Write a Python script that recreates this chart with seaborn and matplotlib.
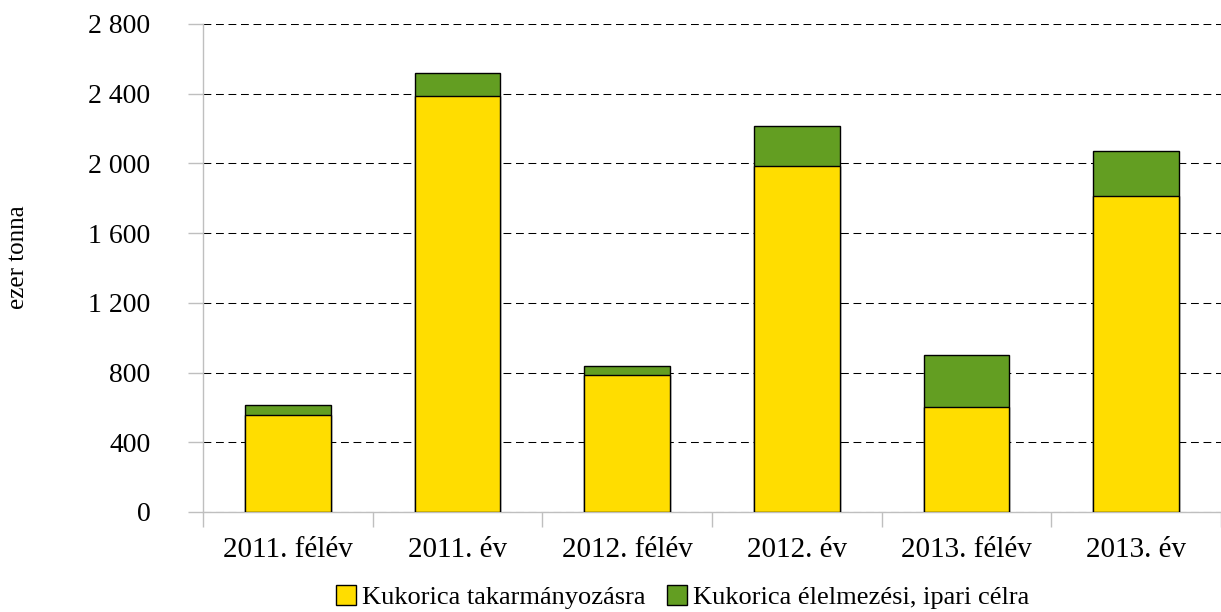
import seaborn as sns
import matplotlib.pyplot as plt
import pandas as pd
import numpy as np

sns.set_theme(style="white")
plt.rcParams['font.family'] = ['Liberation Serif', 'DejaVu Serif']
plt.rcParams['text.color'] = 'black'
plt.rcParams['xtick.color'] = 'black'
plt.rcParams['ytick.color'] = 'black'

# data (ezer tonna)
periods = ["2011. félév", "2011. év", "2012. félév", "2012. év", "2013. félév", "2013. év"]
takarmany = [555, 2387, 786, 1985, 602, 1813]
elelmezes = [59, 132, 52, 230, 299, 258]

df = pd.DataFrame({"period": periods, "takarmany": takarmany, "elelmezes": elelmezes})
df["total"] = df["takarmany"] + df["elelmezes"]

yellow = "#FFDD00"
green = "#639E22"

fig = plt.figure(figsize=(12.21, 6.12), dpi=100)
ax = fig.add_axes([0.1663, 0.1634, 0.8337, 0.7974])

# stacked bars: total (green) behind, feed part (yellow) in front
sns.barplot(x="period", y="total", data=df, color=green, width=0.505,
            edgecolor="black", linewidth=1, saturation=1, ax=ax, zorder=3)
sns.barplot(x="period", y="takarmany", data=df, color=yellow, width=0.505,
            edgecolor="black", linewidth=1, saturation=1, ax=ax, zorder=4)

ax.set_ylim(0, 2800)
ax.set_xlim(-0.5, 5.5)
ax.set_yticks(range(0, 2801, 400))
ax.set_yticklabels([f"{v:,}".replace(",", " ") for v in range(0, 2801, 400)])
ax.yaxis.grid(True, linestyle=(0, (7.5, 4.5)), color="black", linewidth=0.75, zorder=1)
ax.set_axisbelow(True)

ax.set_xticks(np.arange(-0.5, 6, 1), minor=True)
ax.tick_params(axis="x", which="major", length=0, pad=18, labelsize=21)
ax.tick_params(axis="x", which="minor", length=11, color="#bfbfbf", width=1, bottom=True)
ax.tick_params(axis="y", length=11, color="#bfbfbf", width=1, left=True, pad=27, labelsize=20)

for s in ["top", "right"]:
    ax.spines[s].set_visible(False)
for s in ["left", "bottom"]:
    ax.spines[s].set_color("#bfbfbf")
    ax.spines[s].set_linewidth(1)

ax.set_xlabel("")
ax.set_ylabel("")
fig.text(0.015, 0.58, "ezer tonna", rotation=90, fontsize=18, ha="center", va="center")

handles = [plt.Rectangle((0, 0), 1, 1, facecolor=yellow, edgecolor="black", linewidth=1),
           plt.Rectangle((0, 0), 1, 1, facecolor=green, edgecolor="black", linewidth=1)]
fig.legend(handles, ["Kukorica takarmányozásra", "Kukorica élelmezési, ipari célra"],
           loc="lower center", bbox_to_anchor=(0.559, 0.0), ncol=2, frameon=False,
           fontsize=19, handlelength=0.75, handleheight=0.75, handletextpad=0.25,
           columnspacing=0.8, borderaxespad=0, borderpad=0.1)

fig.savefig("out.png", dpi=100)
